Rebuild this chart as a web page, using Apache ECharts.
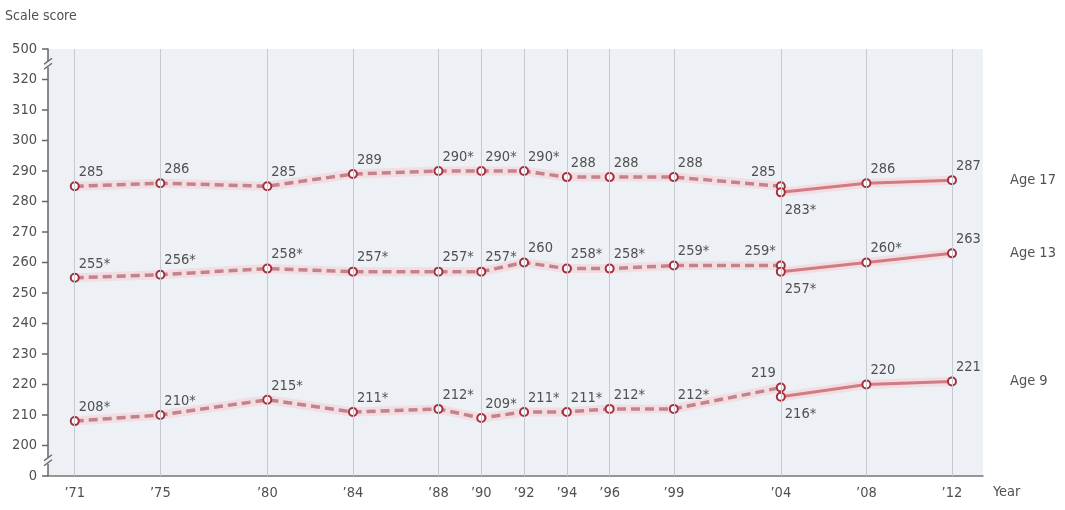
<!DOCTYPE html>
<html><head><meta charset="utf-8">
<script src="https://cdn.jsdelivr.net/npm/echarts@6/dist/echarts.min.js"></script>
<style>html,body{margin:0;padding:0;background:#fff}#c{width:1065px;height:510px}</style>
</head><body><div id="c"></div>
<script>
const years = [1971,1975,1980,1984,1988,1990,1992,1994,1996,1999,2004,2008,2012];
const yearsOld = [1971,1975,1980,1984,1988,1990,1992,1994,1996,1999,2004];
const yearsNew = [2004,2008,2012];
const age17Old = [285,286,285,289,290,290,290,288,288,288,285];
const age17OldSig = [0,0,0,0,1,1,1,0,0,0,0];
const age17New = [283,286,287];
const age17NewSig = [1,0,0];
const age13Old = [255,256,258,257,257,257,260,258,258,259,259];
const age13OldSig = [1,1,1,1,1,1,0,1,1,1,1];
const age13New = [257,260,263];
const age13NewSig = [1,1,0];
const age9Old = [208,210,215,211,212,209,211,211,212,212,219];
const age9OldSig = [1,1,1,1,1,1,1,1,1,1,0];
const age9New = [216,220,221];
const age9NewSig = [1,0,0];
const yTickValues = [190,200,210,220,230,240,250,260,270,280,290,300,310,320,330];
const yTickLabels = {190:'0', 330:'500'};
const seriesNames = ['Age 17','Age 13','Age 9'];

const FONT = "'Liberation Sans Narrow','DejaVu Sans Condensed',sans-serif";
const TXT = '#505050';
const FS = 14.5;
const chart = echarts.init(document.getElementById('c'));

function pts(xs, ys, sig, specialIdx, specialPos) {
  return xs.map((x,i)=>{
    const d = {value:[x, ys[i]], star: sig[i]};
    if (i === specialIdx) {
      d.label = specialPos === 'below'
        ? {position:'right', offset:[-6, 18]}
        : {position:'left', offset:[5, -14]};
    }
    return d;
  });
}
const labelCfg = {
  show:true, position:'right', offset:[-6,-14], fontFamily:FONT, fontSize:FS, color:TXT,
  formatter: p => p.value[1] + (p.data.star ? '*' : '')
};
const series = [];
const groups = [
  [age17Old, age17OldSig, age17New, age17NewSig, seriesNames[0]],
  [age13Old, age13OldSig, age13New, age13NewSig, seriesNames[1]],
  [age9Old, age9OldSig, age9New, age9NewSig, seriesNames[2]]
];
const HALO = 'rgba(248,190,196,0.38)';
groups.forEach(([o, os, n, ns, name], gi) => {
  series.push({type:'line', data: yearsOld.map((x,i)=>[x,o[i]]), symbol:'none', silent:true,
    lineStyle:{color:HALO, width:9}, z:1});
  series.push({type:'line', data: yearsNew.map((x,i)=>[x,n[i]]), symbol:'none', silent:true,
    lineStyle:{color:HALO, width:9}, z:1});
  series.push({type:'line', name: name+' old', data: pts(yearsOld, o, os, yearsOld.length-1, 'above'),
    symbol:'circle', symbolSize:8, itemStyle:{color:'#fff', borderColor:'#a3303f', borderWidth:2},
    lineStyle:{color:'#c4828a', width:3.5, type:[9,5]}, label:labelCfg, z:3,
    markLine: gi===0 ? {silent:true, symbol:'none', label:{show:false},
      lineStyle:{color:'#c6cad0', width:1, type:'solid'}, data: years.map(y=>({xAxis:y}))} : undefined
  });
  series.push({type:'line', name: name, data: pts(yearsNew, n, ns, 0, 'below'),
    symbol:'circle', symbolSize:8, itemStyle:{color:'#fff', borderColor:'#a3303f', borderWidth:2},
    lineStyle:{color:'#d27b82', width:3}, label:labelCfg, z:4,
    endLabel:{show:true, formatter:name, distance:58, fontFamily:FONT, fontSize:FS, color:TXT}
  });
});

chart.setOption({
  animation:false,
  grid:{left:48, right:82, top:49, bottom:34, show:true, backgroundColor:'#edf0f4', borderWidth:0},
  xAxis:{type:'value', min:1969.75, max:2013.45,
    axisLine:{show:true, lineStyle:{color:'#777', width:1.5}}, axisTick:{show:false},
    splitLine:{show:false},
    axisLabel:{customValues:years, fontFamily:FONT, fontSize:FS, color:TXT, margin:10,
      formatter: v => '\u2019' + String(v).slice(2)}
  },
  yAxis:{type:'value', min:190, max:330, interval:10,
    axisLine:{show:true, lineStyle:{color:'#666', width:1.5}},
    axisTick:{show:false},
    splitLine:{show:false},
    axisLabel:{fontFamily:FONT, fontSize:FS, color:TXT, margin:11,
      formatter: v => yTickLabels[v] !== undefined ? yTickLabels[v] : String(v)}
  },
  series: series
});

function breakMark(v1, v2){
  const a = chart.convertToPixel({gridIndex:0}, [1969.75, v1]);
  const b = chart.convertToPixel({gridIndex:0}, [1969.75, v2]);
  const x = a[0], ym = (a[1]+b[1])/2;
  return [
    {type:'rect', shape:{x:x-4, y:ym-3, width:8, height:6}, style:{fill:'#edf0f4'}, z:100},
    {type:'line', shape:{x1:x-4, y1:ym, x2:x+4, y2:ym-6}, style:{stroke:'#666', lineWidth:1.3}, z:101},
    {type:'line', shape:{x1:x-4, y1:ym+5, x2:x+4, y2:ym-1}, style:{stroke:'#666', lineWidth:1.3}, z:101}
  ];
}
const ticks = yTickValues.map(v => {
  const p = chart.convertToPixel({gridIndex:0}, [1969.75, v]);
  return {type:'line', shape:{x1:p[0]-6, y1:p[1], x2:p[0], y2:p[1]}, style:{stroke:'#666', lineWidth:1.5}, z:99};
});
chart.setOption({graphic:[
  {type:'text', left:5, top:9, style:{text:'Scale score', font:'14px '+FONT, fill:TXT}},
  {type:'text', left:993, top:485, style:{text:'Year', font:FS+'px '+FONT, fill:TXT}},
  ...ticks,
  ...breakMark(330, 320), ...breakMark(200, 190)
]});
</script></body></html>
